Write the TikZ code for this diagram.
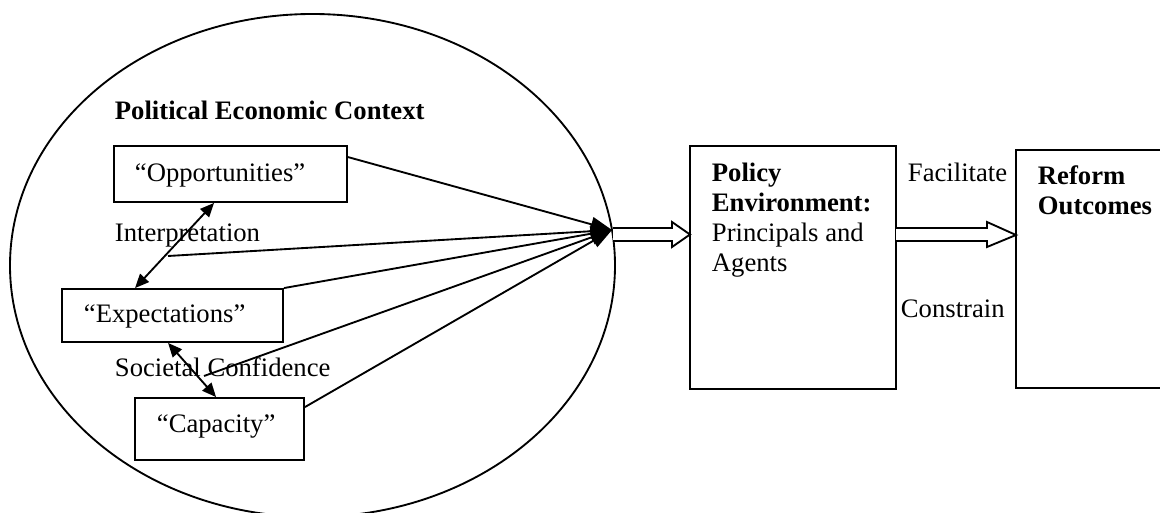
\documentclass[tikz,border=0pt]{standalone}
\usepackage{fontspec}
\setmainfont{Liberation Serif}
\usetikzlibrary{arrows.meta,fit,shapes.geometric,calc}
\begin{document}
\begin{tikzpicture}[x=0.75pt,y=-0.75pt, line width=1.4pt,
  box/.style={draw, rectangle, inner sep=0pt, line width=1.4pt},
  txt/.style={anchor=base west, inner sep=0pt, font=\fontsize{20}{22.5}\selectfont},
  btxt/.style={anchor=base west, inner sep=0pt, font=\fontsize{20}{22.5}\selectfont\bfseries},
  conv/.style={-{Triangle[length=16pt,width=11pt]}, line width=1.4pt},
  dbl/.style={{Triangle[length=10.5pt,width=9pt]}-{Triangle[length=10.5pt,width=9pt]}, line width=1.4pt},
  hollow/.style={draw, fill=white, line width=1.4pt, line join=miter}]
\clip (0,0) rectangle (1160,513);
\fill[white] (0,0) rectangle (1160,513);
% context ellipse
\node[draw, ellipse, minimum width=453.75pt, minimum height=377.25pt, inner sep=0pt, line width=1.4pt] (ctx) at (312.5,265.5) {};
% boxes
\node[box, fit={(114,146) (347,202)}] (opp) {};
\node[box, fit={(62,289) (283,342)}] (exp) {};
\node[box, fit={(135,398) (304,460)}] (cap) {};
\node[box, fit={(690,146) (896,389)}] (pol) {};
\node[box, fit={(1016,150) (1180,388)}] (ref) {};
% texts
\node[btxt] (title) at (114,120) {Political Economic Context};
\node[txt] (opptxt) at (134,182) {“Opportunities”};
\node[txt] (exptxt) at (83,323) {“Expectations”};
\node[txt] (captxt) at (156,432) {“Capacity”};
\node[txt] (interp) at (114,242) {Interpretation};
\node[txt] (soc) at (114,376) {Societal Confidence};
\node[btxt] (pol1) at (711,182) {Policy};
\node[btxt] (pol2) at (711,212) {Environment:};
\node[txt] (pol3) at (711,242) {Principals and};
\node[txt] (pol4) at (711,272) {Agents};
\node[btxt] (ref1) at (1037,184.5) {Reform};
\node[btxt] (ref2) at (1037,215) {Outcomes};
\node[txt] (fac) at (907,182) {Facilitate};
\node[txt] (con) at (900,317) {Constrain};
% coordinates
\coordinate (tip) at (612,230);
\coordinate (ip) at (168,256);
\coordinate (sc) at (204,376);
% double arrows
\draw[dbl] ($(opp.south west)+(101,0)$) -- ($(exp.north west)+(74,0)$);
\draw[dbl] ($(exp.south west)+(107,0)$) -- ($(cap.north west)+(82,0)$);
% converging arrows
\draw[conv] ($(opp.north east)+(0,12)$) -- (tip);
\draw[conv] (ip) -- (tip);
\draw[conv] (exp.north east) -- (tip);
\draw[conv] (sc) -- (tip);
\draw[conv] ($(cap.north east)+(0,10)$) -- (tip);
% hollow arrows
\path[hollow] (613,228) -- (672,228) -- (672,222) -- (690,234.5) -- (672,247) -- (672,241) -- (613,241);
\path[hollow] (896,228) -- (987,228) -- (987,222) -- (1016,235) -- (987,247) -- (987,241) -- (896,241);
\end{tikzpicture}
\end{document}
